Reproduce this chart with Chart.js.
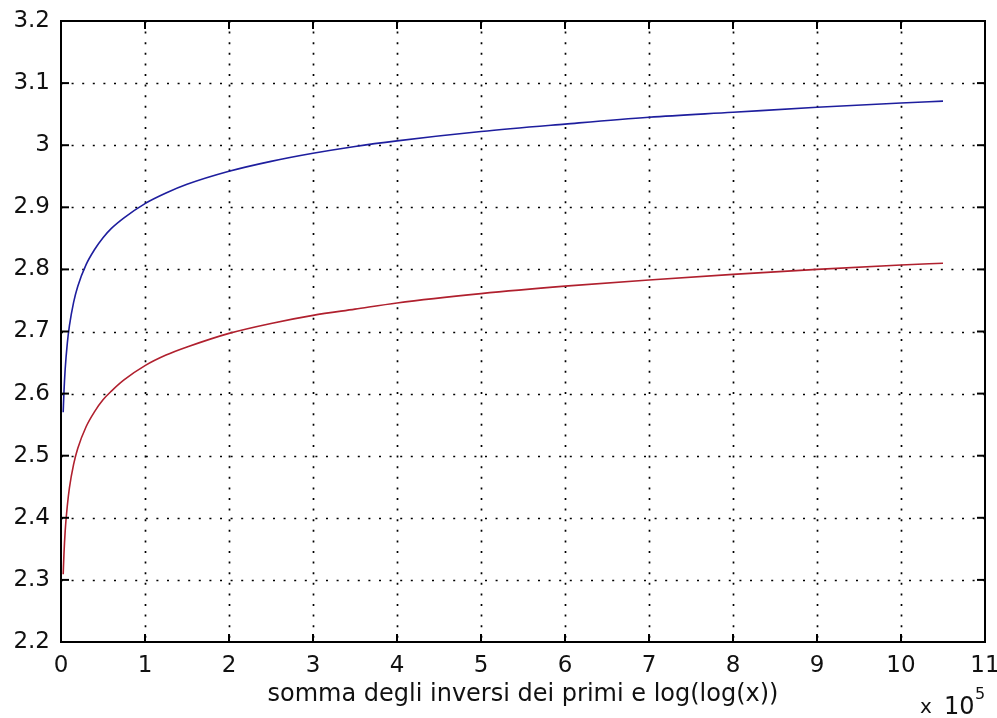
<!DOCTYPE html>
<html>
<head>
<meta charset="utf-8">
<script src="https://cdn.jsdelivr.net/npm/chart.js@4.4.0/dist/chart.umd.min.js"></script>
<style>
  html, body { margin: 0; padding: 0; background: #fff; }
  #wrap { width: 997px; height: 718px; position: relative; }
</style>
</head>
<body>
<div id="wrap"><canvas id="c" width="997" height="718"></canvas></div>
<script>
// x in units of 1e5
const xValues = [0.026, 0.035, 0.05, 0.075, 0.1, 0.15, 0.2, 0.3, 0.4, 0.5, 0.6, 0.75, 1, 1.25, 1.5, 2, 2.5, 3, 3.5, 4, 5, 6, 7, 8, 9, 10, 10.5];
const sumInversePrimes = [2.570, 2.602, 2.640, 2.681, 2.709, 2.747, 2.773, 2.808, 2.832, 2.851, 2.866, 2.883, 2.906, 2.923, 2.937, 2.958, 2.974, 2.987, 2.998, 3.007, 3.022, 3.034, 3.045, 3.053, 3.061, 3.068, 3.071];
const logLogValues = [2.309, 2.341, 2.379, 2.419, 2.448, 2.486, 2.512, 2.547, 2.571, 2.590, 2.604, 2.622, 2.645, 2.662, 2.675, 2.697, 2.713, 2.726, 2.736, 2.746, 2.761, 2.773, 2.783, 2.792, 2.800, 2.807, 2.810];
const xTicks = [0, 1, 2, 3, 4, 5, 6, 7, 8, 9, 10, 11];
const yTicks = [2.2, 2.3, 2.4, 2.5, 2.6, 2.7, 2.8, 2.9, 3.0, 3.1, 3.2];
const xTitle = 'somma degli inversi dei primi e log(log(x))';
const xExponentBase = 'x 10';
const xExponent = '5';

const TEXT = '#111111';
const FONT = 'DejaVu Sans';

const matlabAxes = {
  id: 'matlabAxes',
  beforeDatasetsDraw(chart) {
    const ctx = chart.ctx, xs = chart.scales.x, ys = chart.scales.y, a = chart.chartArea;
    ctx.save();
    ctx.strokeStyle = '#000';
    ctx.lineWidth = 1.7;
    ctx.setLineDash([2, 8.6]);
    xTicks.forEach(v => {
      if (v === xTicks[0] || v === xTicks[xTicks.length - 1]) return;
      const px = Math.round(xs.getPixelForValue(v)) + 0.5;
      ctx.beginPath(); ctx.moveTo(px, a.top); ctx.lineTo(px, a.bottom); ctx.stroke();
    });
    yTicks.forEach((v, i) => {
      if (i === 0 || i === yTicks.length - 1) return;
      const py = Math.round(ys.getPixelForValue(v)) + 0.5;
      ctx.beginPath(); ctx.moveTo(a.left, py); ctx.lineTo(a.right, py); ctx.stroke();
    });
    ctx.restore();
  },
  afterDatasetsDraw(chart) {
    const ctx = chart.ctx, xs = chart.scales.x, ys = chart.scales.y, a = chart.chartArea;
    ctx.save();
    ctx.strokeStyle = '#000';
    ctx.setLineDash([]);
    ctx.lineWidth = 2;
    ctx.strokeRect(a.left, a.top, a.right - a.left, a.bottom - a.top);
    const tl = 8;
    ctx.lineWidth = 2;
    xTicks.forEach(v => {
      const px = xs.getPixelForValue(v);
      ctx.beginPath(); ctx.moveTo(px, a.bottom); ctx.lineTo(px, a.bottom - tl); ctx.stroke();
      ctx.beginPath(); ctx.moveTo(px, a.top); ctx.lineTo(px, a.top + tl); ctx.stroke();
    });
    yTicks.forEach(v => {
      const py = ys.getPixelForValue(v);
      ctx.beginPath(); ctx.moveTo(a.left, py); ctx.lineTo(a.left + tl, py); ctx.stroke();
      ctx.beginPath(); ctx.moveTo(a.right, py); ctx.lineTo(a.right - tl, py); ctx.stroke();
    });
    // exponent label
    ctx.fillStyle = TEXT;
    ctx.textBaseline = 'alphabetic';
    ctx.textAlign = 'left';
    ctx.font = '20px ' + FONT;
    ctx.fillText('x', 920, 713);
    ctx.font = '24px ' + FONT;
    ctx.fillText('10', 944, 714);
    ctx.font = '16px ' + FONT;
    ctx.fillText(xExponent, 975, 699);
    ctx.restore();
  }
};

new Chart(document.getElementById('c'), {
  type: 'line',
  data: {
    datasets: [
      {
        data: xValues.map((x, i) => ({ x: x, y: sumInversePrimes[i] })),
        borderColor: '#1e1e9e',
        borderWidth: 1.6,
        pointRadius: 0,
        cubicInterpolationMode: 'monotone',
        fill: false
      },
      {
        data: xValues.map((x, i) => ({ x: x, y: logLogValues[i] })),
        borderColor: '#b0202e',
        borderWidth: 1.6,
        pointRadius: 0,
        cubicInterpolationMode: 'monotone',
        fill: false
      }
    ]
  },
  options: {
    responsive: false,
    animation: false,
    devicePixelRatio: 1,
    layout: { padding: { left: 0, right: 12, top: 21, bottom: 0 } },
    plugins: { legend: { display: false }, tooltip: { enabled: false } },
    scales: {
      x: {
        type: 'linear',
        min: 0, max: 11,
        afterBuildTicks(scale) { scale.ticks = xTicks.map(v => ({ value: v })); },
        afterFit(scale) { scale.height = 76; scale.paddingLeft = 0; scale.paddingRight = 0; },
        grid: { display: false },
        border: { display: false },
        ticks: {
          color: TEXT,
          font: { family: FONT, size: 23 },
          padding: 2,
          maxRotation: 0,
          autoSkip: false,
          callback: v => String(v)
        },
        title: {
          display: true,
          text: xTitle,
          color: TEXT,
          font: { family: FONT, size: 24 },
          padding: { top: 0, bottom: 9 }
        }
      },
      y: {
        type: 'linear',
        min: 2.2, max: 3.2,
        afterBuildTicks(scale) { scale.ticks = yTicks.map(v => ({ value: v })); },
        afterFit(scale) { scale.width = 61; scale.paddingTop = 0; scale.paddingBottom = 0; },
        grid: { display: false },
        border: { display: false },
        ticks: {
          color: TEXT,
          font: { family: FONT, size: 23 },
          padding: 3,
          autoSkip: false,
          callback: v => (Math.abs(v - 3) < 1e-9 ? '3' : v.toFixed(1))
        }
      }
    }
  },
  plugins: [matlabAxes]
});
</script>
</body>
</html>
